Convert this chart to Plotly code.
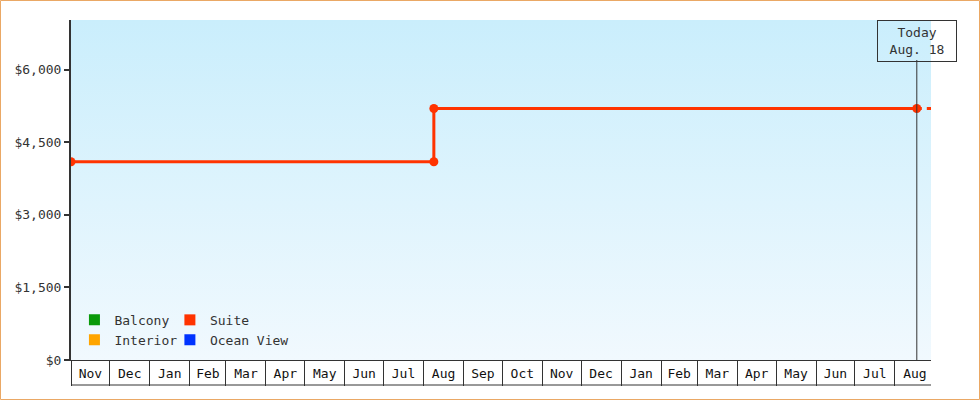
"""Cabin price history — Suite step line with today marker."""
import base64
import plotly.graph_objects as go

# ─── data ───
categories = ["Balcony", "Interior", "Suite", "Ocean View"]
cat_colors = ["#0a9a0a", "#ffa500", "#ff3300", "#0033ff"]

suite_dates = ["2016-11-01", "2017-08-09", "2017-08-09", "2018-08-18"]
suite_prices = [4100, 4100, 5200, 5200]

today = "2018-08-18"
today_label = "Today<br>Aug. 18"
range_start, range_end = "2016-11-01", "2018-08-29"

proj_dates = [today, range_end]
proj_prices = [5200, 5200]

y_ticks = [0, 1500, 3000, 4500, 6000]

FONT = "DejaVu Sans Mono"
INK = "#333333"
W, H = 980, 400
ML, MR, MT, MB = 71, 49, 20, 40
PW, PH = W - ML - MR, H - MT - MB

fig = go.Figure()

# projection (dashed) past today
fig.add_trace(go.Scatter(
    x=proj_dates, y=proj_prices, mode="lines",
    line=dict(color="#ff3300", width=3, dash="5px,5px"),
    showlegend=False, hoverinfo="skip"
))

# suite price history
fig.add_trace(go.Scatter(
    x=suite_dates, y=suite_prices, mode="lines+markers",
    line=dict(color="#ff3300", width=3),
    marker=dict(color="#ff3300", size=9),
    showlegend=False, name="Suite"
))

# legend entries (two columns -> two legends)
for name, color in zip(categories, cat_colors):
    fig.add_trace(go.Scatter(
        x=[None], y=[None], mode="markers", name=name,
        marker=dict(symbol="square", size=11, color=color),
        legend="legend" if name in ("Balcony", "Interior") else "legend2"
    ))

# gradient plot background as an inline svg
svg = ('<svg xmlns="http://www.w3.org/2000/svg" width="10" height="100" preserveAspectRatio="none">'
       '<defs><linearGradient id="g" x1="0" y1="0" x2="0" y2="1">'
       '<stop offset="0" stop-color="#caeefc"/><stop offset="1" stop-color="#f1f9fe"/>'
       '</linearGradient></defs><rect width="10" height="100" fill="url(#g)"/></svg>')
bg_src = "data:image/svg+xml;base64," + base64.b64encode(svg.encode()).decode()

legend_common = dict(
    font=dict(family=FONT, size=13, color=INK), bgcolor="rgba(0,0,0,0)",
    yanchor="bottom", xanchor="left", tracegroupgap=0, itemsizing="trace"
)

fig.update_layout(
    width=W, height=H,
    margin=dict(l=ML, r=MR, t=MT, b=MB),
    paper_bgcolor="white", plot_bgcolor="rgba(0,0,0,0)",
    font=dict(family=FONT, size=13, color=INK),
    images=[dict(source=bg_src, xref="paper", yref="paper", x=0, y=1,
                 sizex=1, sizey=1, sizing="stretch", layer="below")],
    legend=dict(x=0.004, y=0.015, **legend_common),
    legend2=dict(x=0.115, y=0.015, **legend_common),
    xaxis=dict(
        range=[range_start, range_end], tick0=range_start, dtick="M1",
        tickformat="%b", ticklabelmode="period",
        ticks="outside", ticklen=25, tickwidth=1, tickcolor=INK,
        ticklabelstandoff=-24,
        showline=True, linecolor=INK, linewidth=1,
        showgrid=False, zeroline=False,
        tickfont=dict(family=FONT, size=13, color="#111"),
    ),
    yaxis=dict(
        range=[0, 7030], tickvals=y_ticks, tickformat="$,",
        ticks="outside", ticklen=5, tickwidth=2, tickcolor=INK,
        showline=True, linecolor=INK, linewidth=2,
        showgrid=False, zeroline=False,
        tickfont=dict(family=FONT, size=13, color=INK),
    ),
    annotations=[dict(
        x=today, y=1, xref="x", yref="paper", xanchor="center", yanchor="top",
        text=today_label, showarrow=False, align="center",
        bordercolor=INK, borderwidth=1, borderpad=4, bgcolor="rgba(0,0,0,0)",
        width=70, font=dict(family=FONT, size=13, color=INK),
    )],
    shapes=[
        # today marker line
        dict(type="line", xref="x", yref="paper", x0=today, x1=today,
             y0=0, y1=(PH - 40) / PH, line=dict(color=INK, width=1)),
        # bottom edge of the month boxes
        dict(type="line", xref="paper", yref="paper", x0=0, x1=1,
             y0=-25 / PH, y1=-25 / PH, line=dict(color=INK, width=1)),
        # outer frame
        dict(type="rect", xref="paper", yref="paper",
             x0=-(ML - 0.5) / PW, x1=1 + (MR - 0.5) / PW,
             y0=-(MB - 0.5) / PH, y1=1 + (MT - 0.5) / PH,
             line=dict(color="#eaa865", width=1)),
    ],
)

fig.write_html("out.html", config={"displayModeBar": False},
               post_script="document.body.style.margin='0';")
print("✓ out.html")
